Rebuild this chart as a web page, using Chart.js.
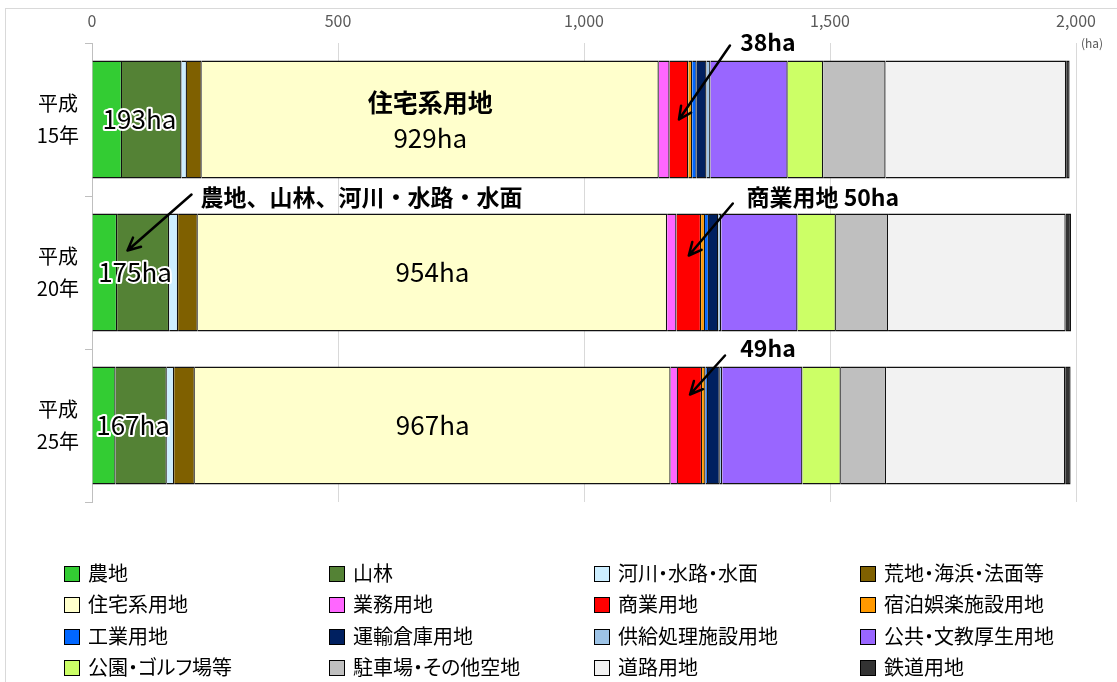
<!DOCTYPE html>
<html>
<head>
<meta charset="utf-8">
<script src="https://cdn.jsdelivr.net/npm/chart.js@4.4.1/dist/chart.umd.min.js"></script>
<style>
body { margin: 0; background: #fff; font-family: "Noto Sans CJK JP", sans-serif; }
#wrap { position: relative; width: 1117px; height: 682px; overflow: hidden; }
#frame { position: absolute; left: 5px; top: 8px; width: 1200px; height: 800px; border: 1px solid #d9d9d9; }
#cv { position: absolute; left: 0; top: 0; }
#unit { position: absolute; left: 1081px; top: 34px; font-size: 12px; color: #595959; }
.li { position: absolute; font-size: 20px; color: #000; white-space: nowrap; line-height: 22px; font-feature-settings: "palt"; }
.li span { display: inline-block; width: 14px; height: 14px; border: 1px solid #000; vertical-align: -1px; margin-right: 8px; }
</style>
</head>
<body>
<div id="wrap">
  <div id="frame"></div>
  <canvas id="cv" width="1117" height="682"></canvas>
  <div id="unit">(ha)</div>
  <div id="legend"></div>
</div>
<script>
// 年次
var years = [['平成', '15年'], ['平成', '20年'], ['平成', '25年']]

// 土地利用区分 (ha)
var nouchi    = [61, 51, 48]
var sanrin    = [121, 106, 104]
var kasen     = [11, 18, 15]
var kouchi    = [30, 40, 42]
var juutaku   = [929, 954, 967]
var gyoumu    = [22, 19, 15]
var shougyou  = [38, 50, 49]
var shukuhaku = [8, 8, 7]
var kougyou   = [9, 8, 5]
var unyu      = [20, 19, 24]
var kyoukyu   = [8, 6, 5]
var koukyou   = [157, 155, 163]
var kouen     = [72, 78, 78]
var chusha    = [127, 106, 92]
var douro     = [367, 361, 364]
var tetsudo   = [7, 11, 11]

var names = ['農地', '山林', '河川・水路・水面', '荒地・海浜・法面等',
             '住宅系用地', '業務用地', '商業用地', '宿泊娯楽施設用地',
             '工業用地', '運輸倉庫用地', '供給処理施設用地', '公共・文教厚生用地',
             '公園・ゴルフ場等', '駐車場・その他空地', '道路用地', '鉄道用地']
var colors = ['#33cc33', '#548235', '#cdeeff', '#7f6000',
              '#ffffcc', '#ff66ff', '#ff0000', '#ff9900',
              '#0066ff', '#002060', '#9dc3e6', '#9966ff',
              '#ccff66', '#bfbfbf', '#f2f2f2', '#333333']
var series = [nouchi, sanrin, kasen, kouchi, juutaku, gyoumu, shougyou, shukuhaku,
              kougyou, unyu, kyoukyu, koukyou, kouen, chusha, douro, tetsudo]

var xTicks = [0, 500, 1000, 1500, 2000]

// ラベル
var sumLabels = ['193ha', '175ha', '167ha']
var resLabels = ['929ha', '954ha', '967ha']
var shougyouNotes = ['38ha', '商業用地 50ha', '49ha']

function startOf(k, i) {
    let s = 0
    for (let j = 0; j < k; j++) s += series[j][i]
    return s
}

var datasets = []
for (var k = 0; k < series.length; k++) {
    datasets.push({
        label: names[k],
        data: series[k],
        backgroundColor: colors[k],
        borderColor: '#111',
        borderWidth: 1.3,
        barPercentage: 0.77,
        categoryPercentage: 1
    })
}

function outlinedText(ctx, txt, x, y) {
    ctx.lineWidth = 4
    ctx.strokeStyle = '#fff'
    ctx.lineJoin = 'round'
    ctx.strokeText(txt, x, y)
    ctx.fillStyle = '#000'
    ctx.fillText(txt, x, y)
}

function arrow(ctx, x1, y1, x2, y2) {
    ctx.strokeStyle = '#000'
    ctx.lineWidth = 2.5
    ctx.lineCap = 'round'
    ctx.beginPath()
    ctx.moveTo(x1, y1)
    ctx.lineTo(x2, y2)
    let a = Math.atan2(y2 - y1, x2 - x1)
    let L = 14
    ctx.moveTo(x2 - L * Math.cos(a - 0.45), y2 - L * Math.sin(a - 0.45))
    ctx.lineTo(x2, y2)
    ctx.lineTo(x2 - L * Math.cos(a + 0.45), y2 - L * Math.sin(a + 0.45))
    ctx.stroke()
}

var labelPlugin = {
    id: 'labelPlugin',
    afterDatasetsDraw(chart) {
        let ctx = chart.ctx
        let xs = chart.scales.x
        let ys = chart.scales.y
        ctx.save()
        ctx.textAlign = 'center'
        ctx.textBaseline = 'middle'
        for (let i = 0; i < years.length; i++) {
            let cy = ys.getPixelForValue(i)
            // 農地+山林+河川
            let s3 = startOf(3, i)
            ctx.font = '26px "Noto Sans CJK JP"'
            outlinedText(ctx, sumLabels[i], xs.getPixelForValue(s3 / 2), cy)
            // 住宅系用地
            let rx = xs.getPixelForValue(startOf(4, i) + juutaku[i] / 2)
            ctx.fillStyle = '#000'
            if (i == 0) {
                ctx.font = 'bold 25px "Noto Sans CJK JP"'
                ctx.fillText('住宅系用地', rx, cy - 17)
                ctx.font = '26px "Noto Sans CJK JP"'
                ctx.fillText(resLabels[i], rx, cy + 19)
            } else {
                ctx.font = '26px "Noto Sans CJK JP"'
                ctx.fillText(resLabels[i], rx, cy)
            }
        }
        // 商業用地の矢印
        let headDy = [0, -17, -31]
        let tailD = [[51, -74], [44, -52], [35, -39]]
        let textD = [[89, -77], [134, -58], [78, -46]]
        ctx.font = 'bold 23px "Noto Sans CJK JP"'
        for (let i = 0; i < years.length; i++) {
            let hx = xs.getPixelForValue(startOf(6, i) + shougyou[i] / 2)
            let hy = ys.getPixelForValue(i) + headDy[i]
            arrow(ctx, hx + tailD[i][0], hy + tailD[i][1], hx, hy)
            ctx.fillStyle = '#000'
            ctx.fillText(shougyouNotes[i], hx + textD[i][0], hy + textD[i][1])
        }
        // 農地、山林、河川の矢印
        let fx = xs.getPixelForValue(nouchi[1] + sanrin[1] * 0.2)
        let fy = ys.getPixelForValue(1) - 22
        arrow(ctx, fx + 64, fy - 56, fx, fy)
        ctx.fillStyle = '#000'
        ctx.fillText('農地、山林、河川・水路・水面', fx + 234, fy - 53)
        ctx.restore()
    }
}

var ctx = document.getElementById('cv').getContext('2d')
var chart = new Chart(ctx, {
    type: 'bar',
    data: { labels: years, datasets: datasets },
    plugins: [labelPlugin],
    options: {
        indexAxis: 'y',
        responsive: false,
        animation: false,
        layout: { padding: { top: 8, right: 41, bottom: 180, left: 0 } },
        plugins: { legend: { display: false }, tooltip: { enabled: false } },
        scales: {
            x: {
                position: 'top',
                stacked: true,
                min: 0,
                max: 2000,
                afterBuildTicks: function (s) { s.ticks = xTicks.map(v => ({ value: v })) },
                afterFit: function (s) { s.height = 35 },
                ticks: {
                    padding: 12,
                    color: '#595959',
                    font: { size: 16, family: '"Noto Sans CJK JP"' },
                    callback: v => v.toLocaleString('en-US')
                },
                grid: { color: '#d9d9d9', drawTicks: false },
                border: { display: false }
            },
            y: {
                stacked: true,
                afterFit: function (s) { s.width = 92 },
                ticks: {
                    color: '#000',
                    crossAlign: 'center',
                    padding: 6,
                    font: { size: 20, family: '"Noto Sans CJK JP"', lineHeight: 1.6 }
                },
                grid: { offset: true, drawOnChartArea: false, tickLength: 7, color: '#bfbfbf' },
                border: { display: true, color: '#bfbfbf' }
            }
        }
    }
})

// 凡例
var legend = document.getElementById('legend')
var colX = [64, 329, 594, 860]
var rowY = [562, 593, 625, 656]
for (var k = 0; k < names.length; k++) {
    let d = document.createElement('div')
    d.setAttribute('class', 'li')
    d.style.left = colX[k % 4] + 'px'
    d.style.top = rowY[Math.floor(k / 4)] + 'px'
    let sw = document.createElement('span')
    sw.style.background = colors[k]
    d.appendChild(sw)
    d.appendChild(document.createTextNode(names[k]))
    legend.appendChild(d)
}
</script>
</body>
</html>
